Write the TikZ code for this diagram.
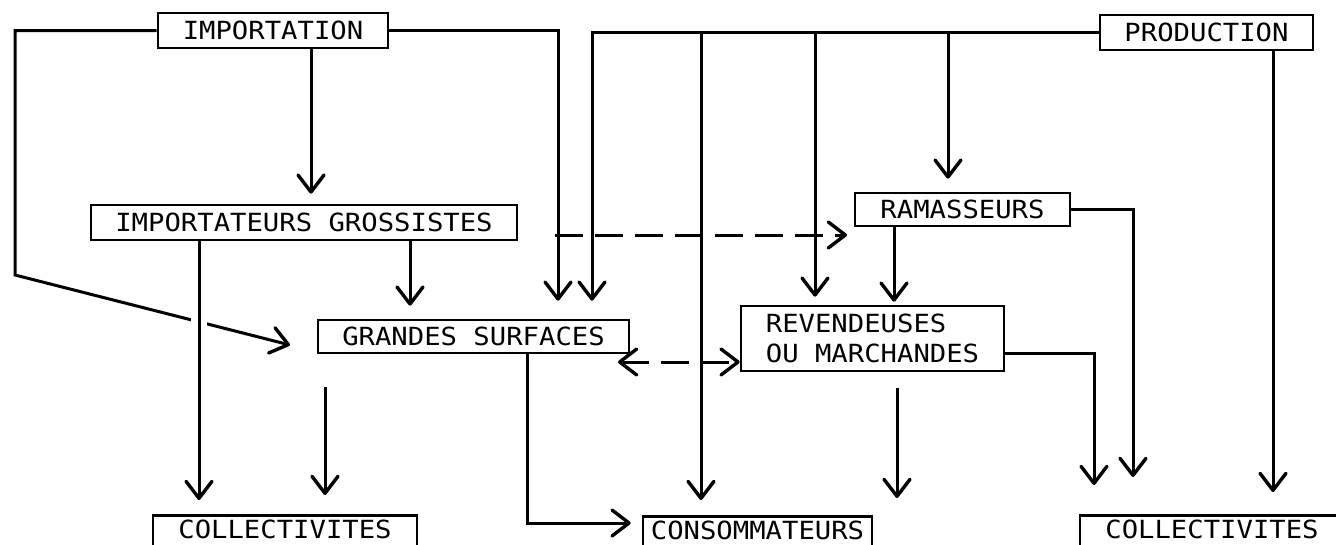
\documentclass[tikz,border=0pt]{standalone}
\usepackage{fontspec}
\newfontfamily\boxfont[FakeStretch=1.09]{DejaVu Sans Mono}
\usetikzlibrary{arrows.meta,calc}
\begin{document}
\begin{tikzpicture}[x=1pt,y=-1pt,
  box/.style={draw, line width=2.6pt, inner sep=0pt, font=\boxfont\fontsize{25}{30}\selectfont},
  botbox/.style={box, anchor=north, text height=18.5pt, text depth=40pt, inner ysep=4.5pt},
  conn/.style={line width=3pt},
  tip/.style={-{Straight Barb[round,length=17pt,width=26pt,line width=3.4pt]}},
  arr/.style={conn, tip},
  dsh/.style={conn, dash pattern=on 28pt off 12pt},
  ]
\useasboundingbox (0,0) rectangle (1336,544);
\clip (0,0) rectangle (1336,544);
\fill[white] (0,0) rectangle (1336,544);

% nodes
\node[box, minimum width=230pt, minimum height=35pt] (imp) at (273,30.5) {IMPORTATION};
\node[box, minimum width=213pt, minimum height=35pt] (prod) at (1206.5,32.5) {PRODUCTION};
\node[box, minimum width=426pt, minimum height=35pt] (igr) at (304,222.5) {IMPORTATEURS GROSSISTES};
\node[box, minimum width=215pt, minimum height=33pt] (ram) at (962.5,209.5) {RAMASSEURS};
\node[box, minimum width=311pt, minimum height=33pt] (gs) at (473.5,336.5) {GRANDES SURFACES};
\node[box, minimum width=263pt, minimum height=65pt, align=left] (rev) at (872.5,338.5) {REVENDEUSES\\OU MARCHANDES};
\node[botbox, minimum width=264pt] (coll1) at (285,514) {COLLECTIVITES};
\node[botbox, minimum width=229pt] (cons) at (757.5,515) {CONSOMMATEURS};
\node[botbox, minimum width=264pt] (coll2) at (1212,514) {COLLECTIVITES};

% helper coordinates
\coordinate (xA) at (311,0);
\coordinate (xB) at (558,0);
\coordinate (xC) at (592,0);
\coordinate (xD) at (701,0);
\coordinate (xE) at (815,0);
\coordinate (xF) at (948,0);
\coordinate (xG) at (1273,0);
\coordinate (xH) at (410,0);
\coordinate (xI) at (199,0);
\coordinate (xJ) at (527,0);
\coordinate (xK) at (894,0);
\coordinate (xL) at (1133,0);
\coordinate (xM) at (1094,0);
\coordinate (yJ) at (0,523);
\coordinate (yK) at (0,362);
\coordinate (yM) at (0,353);
\coordinate (c1) at (15,275);
\coordinate (c2) at (290,345);
\coordinate (d1) at (555,235);
\coordinate (d2) at (847,235);
\coordinate (g1) at (618,362);
\coordinate (f1s) at (325,387);
\coordinate (f1e) at (325,495);
\coordinate (f2s) at (897,388);
\coordinate (f2e) at (897,498);

% connectors
\draw[arr] (imp.west) -| (c1) -- (c2);
\draw[white, line width=16pt] (199,311) -- (199,333);
\draw[arr, shorten >=14pt] (xI |- igr.south) -- (xI |- coll1.north);
\draw[arr, shorten >=10pt] (xA |- imp.south) -- (xA |- igr.north);
\draw[arr, shorten >=18pt] (imp.east) -| (xB |- gs.north);
\draw[arr, shorten >=18pt] (prod.west) -| (xC |- gs.north);
\draw[arr, shorten >=15pt] (xD |- prod.west) -- (xD |- cons.north);
\draw[arr, shorten >=8pt] (xE |- prod.west) -- (xE |- rev.north);
\draw[arr, shorten >=13pt] (xF |- prod.west) -- (xF |- ram.north);
\draw[arr, shorten >=22pt] (xG |- prod.south) -- (xG |- coll2.north);
\draw[arr, shorten >=13pt] (xH |- igr.south) -- (xH |- gs.north);
\draw[arr, shorten >=11pt] (xJ |- gs.south) |- (cons.west |- yJ);
\draw[dsh, tip] (d1) -- (d2);
\draw[dsh, {Straight Barb[round,length=17pt,width=26pt,line width=3.4pt]}-{Straight Barb[round,length=17pt,width=26pt,line width=3.4pt]}] (g1) -- (rev.west |- yK);
\draw[arr, shorten >=3pt] (xK |- ram.south) -- (xK |- rev.north);
\draw[arr, shorten >=37pt] (ram.east) -| (xL |- coll2.north);
\draw[arr, shorten >=29pt] (rev.east |- yM) -| (xM |- coll2.north);
\draw[arr] (f1s) -- (f1e);
\draw[arr] (f2s) -- (f2e);
\end{tikzpicture}
\end{document}
